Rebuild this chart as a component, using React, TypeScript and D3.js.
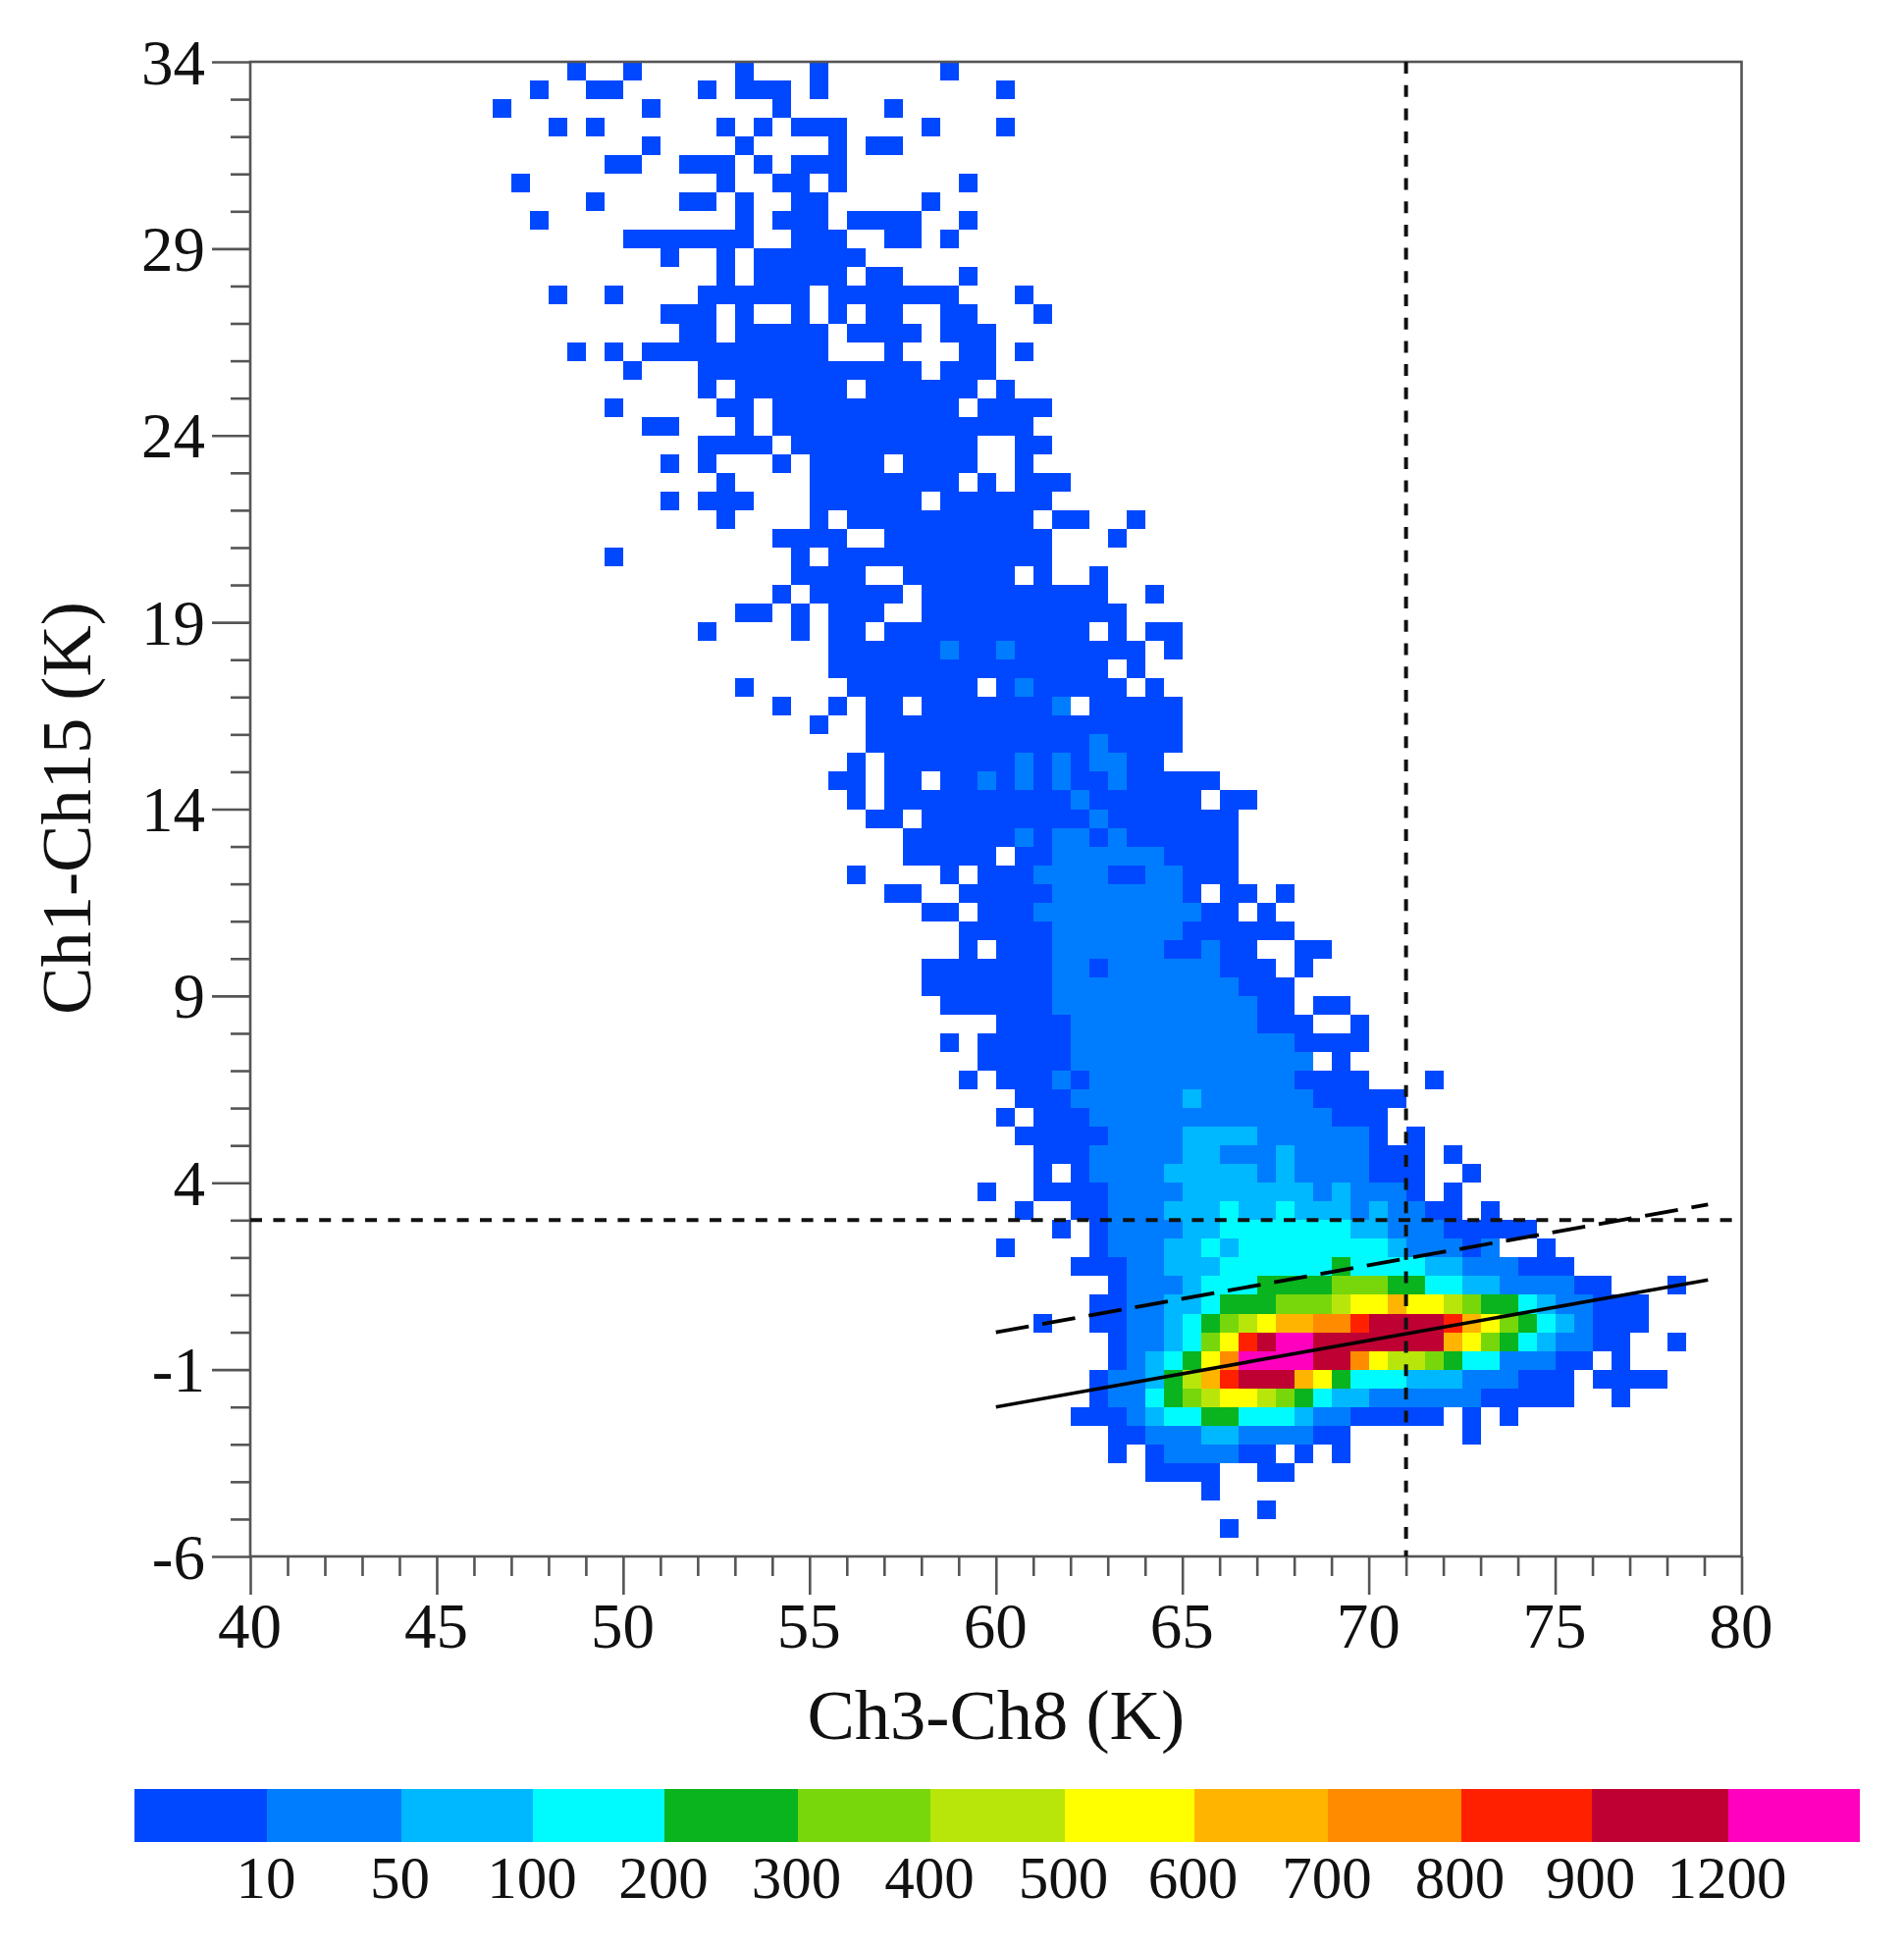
import React, { useEffect, useRef } from "react";
import * as d3 from "d3";

// Histogram rows, top row first. Tokens are "col" or "from-to", optional ":level";
// later tokens overwrite earlier ones. Columns are 0.5 K wide starting at 40 K.
const histogramRows: string[] = [
  "17 20 26 30 37",
  "15 18-19 24 26-28 30 40",
  "13 21 28 34",
  "16 18 25 27 29-31 36 40",
  "21 26 31 33-34",
  "19-20 23-25 27 29-31",
  "14 25 28-29 31 38",
  "18 23-24 26 29-30 36",
  "15 26 28-30 32-35 38",
  "20-26 29-31 34-35 37",
  "22 25 27-32",
  "25 27-31 33-34 38",
  "16 19 24-29 31-37 41",
  "22-24 26 29 31 33-34 37-38 42",
  "23-24 26-30 32-35 37-39",
  "17 19 21-30 34 38-39 41",
  "20 24-35 37-39",
  "24 26-31 33-38 40",
  "19 25-26 28-37 39-42",
  "21-22 26 28-41",
  "24-27 29-38 41-42",
  "22 24 28 30-33 35-38 41",
  "25 30-37 39 41-43",
  "22 24-26 30-35 37-42",
  "25 30 32-41 43-44 47",
  "28-31 34-42 46",
  "19 29 31-42",
  "29-32 35-40 42 45",
  "28 30-34 36-45 48",
  "26-27 29 31-33 36-46",
  "24 29 31-32 34-44 46 48-49",
  "31-47 49 37:1 40:1",
  "31-45 47",
  "26 32-38 40-46 48 41:1",
  "28 31 33-34 36-43 45-49 43:1",
  "30 33-49",
  "33-49 45:1",
  "32 34-48 41:1 43:1 45-46:1",
  "31-32 34-35 37-51 39:1 41:1 43:1 46:1",
  "32 34-50 52-53 44:1",
  "33-34 36-52 45:1",
  "35-52 41:1 43-44:1 46:1",
  "35-39 41-52 43-48:1",
  "32 37 39-52 42-45:1 48-49:1",
  "34-35 38-50 52-53 55 43-49:1",
  "36-37 39-52 54 42-50:1",
  "38-55 43-49:1",
  "38 40-53 56-57 43-48:1 51:1",
  "36-54 56 43-44:1 46-51:1",
  "36-55 43-52:1",
  "37-55 57-58 43-53:1",
  "40-56 59 44-53:1",
  "37 39-59 44-55:1",
  "39-56 58 44-56:1",
  "38 40-59 63 43:1 45-55:1",
  "41-61 44-49:1 50:2 51-56:1",
  "40 42-60 45-57:1",
  "41-60 62 46-49:1 50-53:2 54-59:1",
  "42-62 64 45-49:1 50-51:2 52-54:1 55:2 56-59:1",
  "42 44-62 65 45-48:1 49-53:2 54:1 55:2 56-59:1",
  "39 42-62 64 46-49:1 50-56:2 57:1 58:2 59-61:1",
  "41 44-64 66 46-48:1 49-51:2 52:3 53-54:2 55:3 56-58:2 59:1 60:2 61-62:1",
  "43 45-68 46-49:1 50-51:2 52-58:3 59-60:2 61-63:1",
  "40 45-66 69 46-48:1 49-50:2 51:3 52:2 53-60:3 61:2 62-64:1 66:1",
  "44-70 47-48:1 49-51:2 52-57:3 58:4 59-62:3 63-64:2 65-67:1",
  "46-72 76 47-49:1 50:2 51-53:3 54-57:4 58-60:5 61-62:4 63-64:3 65-66:2 67-70:1",
  "45-74 47-48:1 49-50:2 51:3 52-54:4 55-57:5 58:6 59-60:7 61:8 62-63:7 64:6 65:5 66-67:4 68:3 69:2 70-71:1",
  "42 45-74 47-48:1 49:2 50:3 51:4 52:5 53:6 54:7 55-56:8 57-58:9 59:10 60-63:11 64:10 65:8 66:7 67:5 68:4 69:3 70:2 71:1",
  "46-73 76 47-48:1 49:2 50:3 51:5 52:7 53:10 54:11 55-56:12 57-63:11 64:8 65:7 66:5 67:4 68:3 69:2 70-71:1",
  "46-71 73 47:1 48:2 49:3 50:4 51:7 52:9 53-56:12 57-58:11 59:9 60:7 61-62:6 63:5 64:4 65-66:3 67-69:1",
  "45-70 72-75 46-47:1 48:2 49:4 50:6 51:8 52:10 53-55:11 56:8 57:7 58:4 59-61:3 62-64:2 65-67:1",
  "45-70 73 46-47:1 48:3 49:4 50:5 51:6 52-53:7 54:6 55:5 56:4 57:3 58-59:2 60-65:1",
  "44-63 65 67 47:1 48:2 49-50:3 51-52:4 53-55:3 56:2 57-58:1",
  "46-58 65 48-50:1 51-52:2 53-56:1",
  "46 48-54 56 58 49-52:1",
  "48-51 54-55",
  "51",
  "54",
  "52",
];

const levelCounts = [5, 30, 75, 150, 250, 350, 450, 550, 650, 750, 850, 1000, 1300];
const countThresholds = [10, 50, 100, 200, 300, 400, 500, 600, 700, 800, 900, 1200];
const levelColors = [
  "#0048ff", "#007dff", "#00b8ff", "#00fbff", "#0ab41e", "#78d70a", "#b9e60a",
  "#ffff00", "#ffb400", "#ff8c00", "#ff2000", "#be0032", "#ff00be",
];
const legendEdges = [136.5, 272, 408.5, 543, 677, 812.5, 948, 1084.5, 1216.5, 1353, 1488.5, 1621.5, 1760.5, 1894.5];

const xMajorTicks = [40, 45, 50, 55, 60, 65, 70, 75, 80];
const yMajorTicks = [-6, -1, 4, 9, 14, 19, 24, 29, 34];
const solidFit: [number, number][] = [[60, -2], [79.1, 1.4]];
const dashedFit: [number, number][] = [[60, 0], [79.1, 3.42]];
const xCut = 71;
const yCut = 3;

const binSize = 0.5;
const PLOT = { left: 255, right: 1774.5, top: 63, bottom: 1586 };

const x = d3.scaleLinear().domain([40, 80]).range([PLOT.left, PLOT.right]);
const y = d3.scaleLinear().domain([-6, 34]).range([PLOT.bottom, PLOT.top]);
const color = d3.scaleThreshold<number, string>().domain(countThresholds).range(levelColors);
const lineGen = d3.line<[number, number]>().x((d) => x(d[0])).y((d) => y(d[1]));

type Cell = { key: string; xv: number; yv: number; count: number };

function parseCells(): Cell[] {
  const out = new Map<string, Cell>();
  histogramRows.forEach((row, r) => {
    row.split(" ").forEach((token) => {
      const [range, lvl] = token.split(":");
      const [a, b] = range.split("-").map(Number);
      const end = b === undefined ? a : b;
      for (let c = a; c <= end; c++) {
        const key = `${r}_${c}`;
        out.set(key, {
          key,
          xv: 40 + c * binSize,
          yv: 34 - (r + 1) * binSize,
          count: levelCounts[lvl === undefined ? 0 : Number(lvl)],
        });
      }
    });
  });
  return Array.from(out.values());
}

const cells = parseCells();
const FONT = "'Liberation Serif', 'Times New Roman', serif";
const AXIS_COLOR = "#555555";

export default function App() {
  const xAxisRef = useRef<SVGGElement>(null);
  const xMinorRef = useRef<SVGGElement>(null);
  const yAxisRef = useRef<SVGGElement>(null);
  const yMinorRef = useRef<SVGGElement>(null);

  useEffect(() => {
    const style = (sel: any) => {
      sel.select(".domain").remove();
      sel.selectAll("line").attr("stroke", AXIS_COLOR).attr("stroke-width", 2.6);
      sel.selectAll("text")
        .attr("font-family", FONT)
        .attr("font-size", 65)
        .attr("fill", "#111");
    };
    const plain = (d: any) => String(d);
    const xs = d3.select(xAxisRef.current!);
    xs.call(d3.axisBottom(x).tickValues(xMajorTicks).tickSize(39).tickPadding(0).tickFormat(plain) as any);
    style(xs);
    xs.selectAll("text").attr("y", 0).attr("dy", 0).attr("transform", "translate(-1,93)");

    const xm = d3.select(xMinorRef.current!);
    xm.call(d3.axisBottom(x).tickValues(d3.range(40, 81).filter((v) => v % 5 !== 0)).tickSize(20).tickFormat(() => "") as any);
    style(xm);

    const ys = d3.select(yAxisRef.current!);
    ys.call(d3.axisLeft(y).tickValues(yMajorTicks).tickSize(39).tickPadding(0).tickFormat(plain) as any);
    style(ys);
    ys.selectAll("text").attr("x", -46).attr("dy", 0).attr("transform", "translate(0,22)");

    const ym = d3.select(yMinorRef.current!);
    ym.call(d3.axisLeft(y).tickValues(d3.range(-6, 35).filter((v) => (v + 6) % 5 !== 0)).tickSize(20).tickFormat(() => "") as any);
    style(ym);
  }, []);

  const cw = x(40 + binSize) - x(40);
  const ch = y(0) - y(binSize);

  return (
    <svg
      width={1940}
      height={1984}
      viewBox="0 0 1940 1984"
      style={{ position: "absolute", left: 0, top: 0, display: "block", background: "#fff" }}
    >
      <g shapeRendering="crispEdges">
        {cells.map((d) => (
          <rect
            key={d.key}
            x={x(d.xv)}
            y={y(d.yv + binSize)}
            width={cw}
            height={ch}
            fill={color(d.count)}
          />
        ))}
      </g>

      <rect
        x={PLOT.left}
        y={PLOT.top}
        width={PLOT.right - PLOT.left}
        height={PLOT.bottom - PLOT.top}
        fill="none"
        stroke={AXIS_COLOR}
        strokeWidth={2.6}
      />
      <g ref={xAxisRef} transform={`translate(0,${PLOT.bottom})`} />
      <g ref={xMinorRef} transform={`translate(0,${PLOT.bottom})`} />
      <g ref={yAxisRef} transform={`translate(${PLOT.left},0)`} />
      <g ref={yMinorRef} transform={`translate(${PLOT.left},0)`} />

      <line x1={x(xCut)} x2={x(xCut)} y1={PLOT.top} y2={PLOT.bottom} stroke="#111" strokeWidth={4} strokeDasharray="12 11.7" />
      <line x1={PLOT.left} x2={PLOT.right} y1={y(yCut)} y2={y(yCut)} stroke="#111" strokeWidth={4} strokeDasharray="12 11.4" />
      <path d={lineGen(solidFit)!} fill="none" stroke="#000" strokeWidth={3.6} />
      <path d={lineGen(dashedFit)!} fill="none" stroke="#000" strokeWidth={3.8} strokeDasharray="34 14" />

      <text x={(x(40) + x(80)) / 2} y={1772} textAnchor="middle" fontFamily={FONT} fontSize={72.5} fill="#111">
        Ch3-Ch8 (K)
      </text>
      <text
        transform={`translate(92,${(y(-6) + y(34)) / 2 - 1}) rotate(-90)`}
        textAnchor="middle"
        fontFamily={FONT}
        fontSize={72.5}
        fill="#111"
      >
        Ch1-Ch15 (K)
      </text>

      <g shapeRendering="crispEdges">
        {levelColors.map((c, i) => (
          <rect
            key={c}
            x={legendEdges[i]}
            y={1823}
            width={legendEdges[i + 1] - legendEdges[i]}
            height={54}
            fill={c}
          />
        ))}
      </g>
      {countThresholds.map((t, i) => (
        <text
          key={t}
          x={legendEdges[i + 1] - 1}
          y={1934}
          textAnchor="middle"
          fontFamily={FONT}
          fontSize={61}
          fill="#111"
        >
          {t}
        </text>
      ))}
    </svg>
  );
}
